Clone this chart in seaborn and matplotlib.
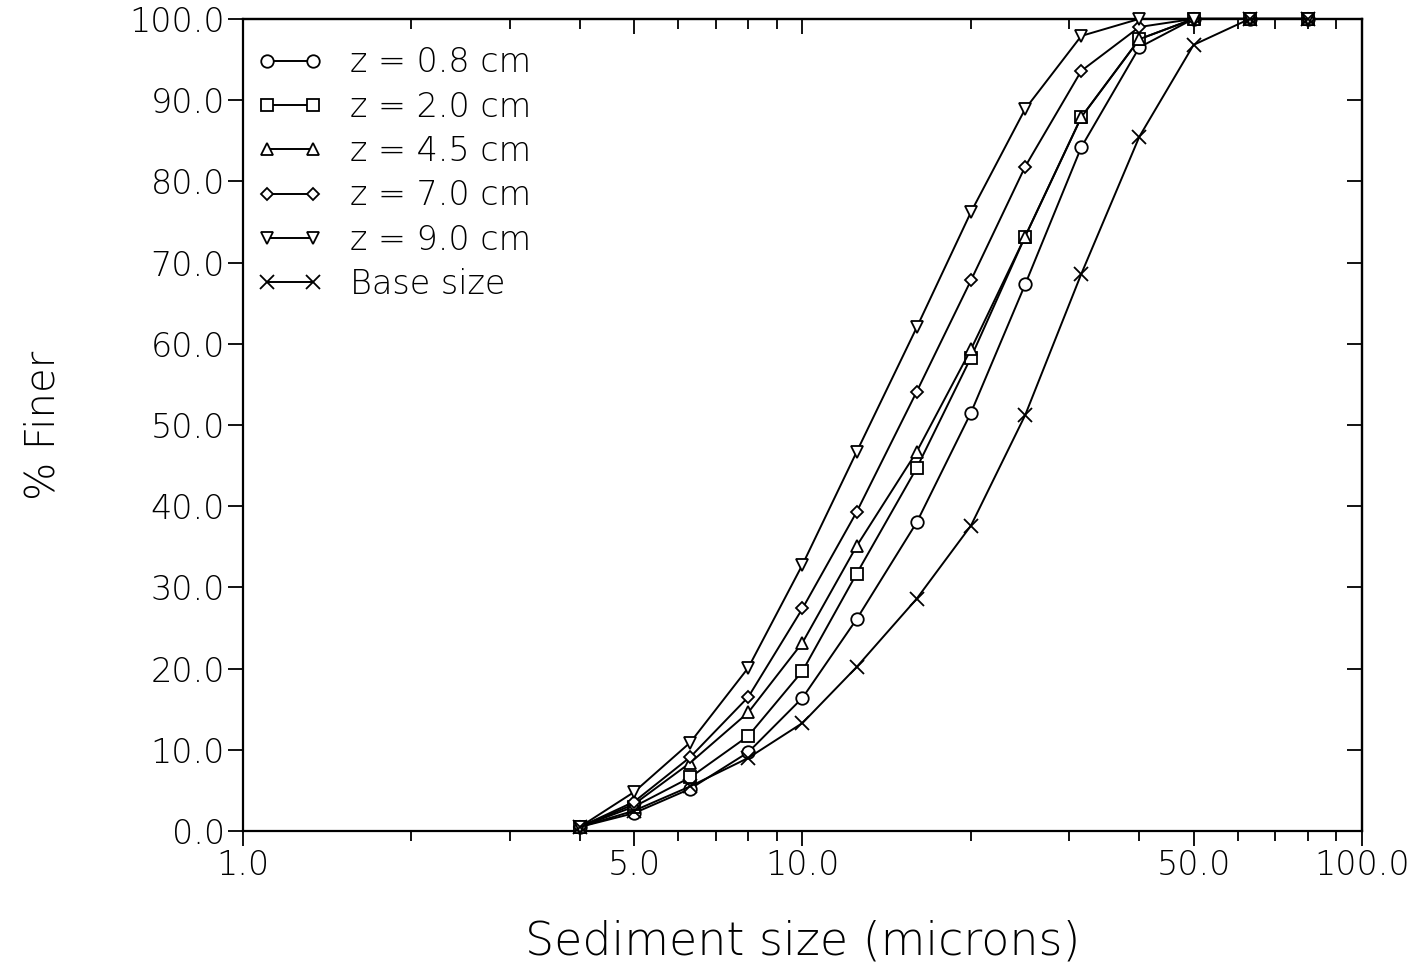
import matplotlib
matplotlib.use("Agg")
import matplotlib.pyplot as plt
import seaborn as sns
from matplotlib.ticker import FixedLocator, FixedFormatter, NullFormatter

# Sieve / sedigraph size classes (microns)
sizes = [4.0, 5.0, 6.3, 8.0, 10.0, 12.5, 16.0, 20.0, 25.0, 31.5, 40.0, 50.0, 63.0, 80.0]

# Cumulative percent finer at each depth
finer_z08 = [0.5, 2.2, 5.2, 9.7, 16.4, 26.1, 38.0, 51.5, 67.3, 84.2, 96.5, 100.0, 100.0, 100.0]
finer_z20 = [0.5, 3.0, 6.6, 11.7, 19.7, 31.7, 44.7, 58.3, 73.2, 87.9, 97.5, 100.0, 100.0, 100.0]
finer_z45 = [0.5, 3.3, 8.4, 14.6, 23.2, 35.1, 46.7, 59.3, 73.2, 87.9, 97.5, 100.0, 100.0, 100.0]
finer_z70 = [0.5, 3.6, 9.1, 16.5, 27.4, 39.3, 54.1, 67.8, 81.8, 93.6, 99.0, 100.0, 100.0, 100.0]
finer_z90 = [0.5, 4.8, 10.9, 20.1, 32.8, 46.7, 62.0, 76.2, 88.9, 97.9, 100.0, 100.0, 100.0, 100.0]
finer_base = [0.5, 2.5, 5.5, 9.0, 13.3, 20.2, 28.6, 37.6, 51.2, 68.6, 85.5, 96.8, 100.0, 100.0]

series_labels = ["z = 0.8 cm", "z = 2.0 cm", "z = 4.5 cm", "z = 7.0 cm", "z = 9.0 cm", "Base size"]

x_major = [1, 5, 10, 50, 100]
x_major_labels = ["1.0", "5.0", "10.0", "50.0", "100.0"]
x_minor = [2, 3, 4, 6, 7, 8, 9, 20, 30, 40, 60, 70, 80, 90]
y_major = [0, 10, 20, 30, 40, 50, 60, 70, 80, 90, 100]
y_major_labels = [f"{v:.1f}" for v in y_major]

sns.set_theme(style="ticks")
plt.rcParams["font.family"] = ["DejaVu Sans"]
plt.rcParams["font.weight"] = "light"
plt.rcParams["axes.labelweight"] = "light"
plt.rcParams["text.color"] = "black"
plt.rcParams["axes.labelcolor"] = "black"
plt.rcParams["xtick.color"] = "black"
plt.rcParams["ytick.color"] = "black"

fig = plt.figure(figsize=(14.25, 9.68), dpi=100)
ax = fig.add_axes([0.1705, 0.1415, 0.7853, 0.839])
ax.set_xscale("log")

styles = [
    (finer_z08, "o", 9),
    (finer_z20, "s", 8),
    (finer_z45, "^", 9),
    (finer_z70, "D", 6),
    (finer_z90, "v", 9),
    (finer_base, "x", 10),
]

for (vals, mk, ms), lab in zip(styles, series_labels):
    sns.lineplot(
        x=sizes, y=vals, ax=ax, color="black", linewidth=1.4,
        marker=mk, markersize=ms, markerfacecolor="white",
        markeredgecolor="black", markeredgewidth=1.3,
        label=lab, clip_on=False, zorder=3,
    )

ax.set_xlim(1, 100)
ax.set_ylim(0, 100)

ax.xaxis.set_major_locator(FixedLocator(x_major))
ax.xaxis.set_major_formatter(FixedFormatter(x_major_labels))
ax.xaxis.set_minor_locator(FixedLocator(x_minor))
ax.xaxis.set_minor_formatter(NullFormatter())
ax.yaxis.set_major_locator(FixedLocator(y_major))
ax.yaxis.set_major_formatter(FixedFormatter(y_major_labels))

ax.tick_params(axis="both", which="major", direction="out", length=11,
               width=1.3, labelsize=24, color="black", labelcolor="black")
ax.tick_params(axis="x", which="minor", direction="out", length=7, width=1.3)
ax.tick_params(axis="x", which="major", pad=2)
ax.tick_params(axis="y", which="major", pad=2)

for sp in ax.spines.values():
    sp.set_visible(True)
    sp.set_linewidth(1.6)
    sp.set_color("black")

# Mirrored inward ticks on the top and right edges
top = ax.secondary_xaxis("top")
top.xaxis.set_major_locator(FixedLocator(x_major))
top.xaxis.set_minor_locator(FixedLocator(x_minor))
top.xaxis.set_major_formatter(NullFormatter())
top.xaxis.set_minor_formatter(NullFormatter())
top.tick_params(which="major", direction="in", length=11, width=1.3)
top.tick_params(which="minor", direction="in", length=7, width=1.3)
top.spines["top"].set_linewidth(1.6)

right = ax.secondary_yaxis("right")
right.yaxis.set_major_locator(FixedLocator(y_major))
right.yaxis.set_major_formatter(NullFormatter())
right.tick_params(which="major", direction="in", length=11, width=1.3)
right.spines["right"].set_linewidth(1.6)

ax.set_xlabel("Sediment size (microns)", fontsize=33, labelpad=27)
ax.set_ylabel("% Finer", fontsize=29, labelpad=48)

ax.legend(loc="upper left", frameon=False, numpoints=2, handlelength=2.0,
          fontsize=24, labelspacing=0.34, handletextpad=0.8,
          borderaxespad=0.25, bbox_to_anchor=(-0.007, 0.993))

fig.savefig("out.png", dpi=100, facecolor="white")
